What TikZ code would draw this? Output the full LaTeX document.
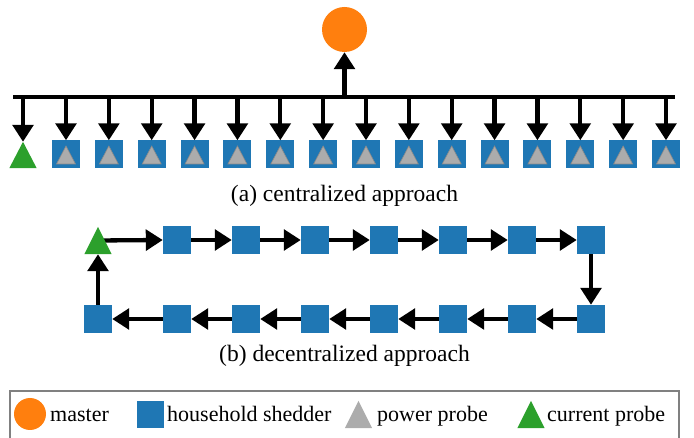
\documentclass[tikz,border=0pt]{standalone}
\usepackage{fontspec}
\setmainfont{Liberation Serif}
\usetikzlibrary{arrows.meta,calc}
\definecolor{torange}{HTML}{FF7F0E}
\definecolor{tblue}{HTML}{1F77B4}
\definecolor{tgreen}{HTML}{2CA02C}
\definecolor{tgray}{RGB}{172,172,172}
\definecolor{boxgray}{RGB}{128,128,128}
\begin{document}
\begin{tikzpicture}[x=1pt,y=-1pt,
  shedder/.style={rectangle,fill=tblue,minimum size=28pt,inner sep=0pt},
  lshedder/.style={rectangle,fill=tblue,minimum size=27pt,inner sep=0pt},
  triholder/.style={rectangle,minimum width=27pt,minimum height=26pt,inner sep=0pt},
  masternode/.style={circle,fill=torange,minimum size=45pt,inner sep=0pt},
  conn/.style={line width=4.3pt,-{Triangle[length=17pt,width=20.5pt]}},
  bus/.style={line width=4.5pt},
  legtext/.style={anchor=base west,inner sep=0pt,font=\fontsize{22}{26}\selectfont},
  captext/.style={anchor=base,inner sep=0pt,font=\fontsize{23.5}{28}\selectfont},
]
\useasboundingbox (0,0) rectangle (694,438);

% ---------- (a) centralized ----------
\node[masternode] (master) at (344.5,29.5) {};
\coordinate (busL) at (13,97);
\coordinate (busR) at (675,97);
\draw[bus] (busL) -- (busR);
\draw[conn] (master.south |- busL) -- (master.south);

\node[triholder] (a0) at (23,155) {};
\foreach \k in {1,...,15}{
  \pgfmathsetmacro{\xx}{66+42.857*(\k-1)}
  \node[shedder] (a\k) at (\xx,154.5) {};
  \fill[tgray,draw=tgray!80!black,line width=0.6pt]
    ($(a\k.center)+(-9.5,9.5)$) -- ($(a\k.center)+(9.5,9.5)$) -- ($(a\k.center)+(0,-8.5)$) -- cycle;
}
\foreach \k in {0,...,15}{
  \draw[conn] (a\k.north |- busL) -- (a\k.north);
}
\fill[tgreen] (a0.south west) -- (a0.south east) -- (a0.north) -- cycle;

\node[captext] (capa) at (344.5,201.5) {(a) centralized approach};

% ---------- (b) decentralized ----------
\node[triholder,minimum height=27pt] (tb) at (98,240.5) {};
\foreach \k in {1,...,7}{
  \pgfmathsetmacro{\xx}{177+69*(\k-1)}
  \node[shedder] (t\k) at (\xx,240) {};
}
\node[shedder] (b0) at (98,319) {};
\foreach \k in {1,...,7}{
  \pgfmathsetmacro{\xx}{177+69*(\k-1)}
  \node[shedder] (b\k) at (\xx,319) {};
}
\draw[conn] (tb.center) -- (t1.west);
\foreach \i/\j in {1/2,2/3,3/4,4/5,5/6,6/7}{
  \draw[conn] (t\i.east) -- (t\j.west);
}
\draw[conn] (t7.south) -- (b7.north);
\foreach \i/\j in {7/6,6/5,5/4,4/3,3/2,2/1,1/0}{
  \draw[conn] (b\i.west) -- (b\j.east);
}
\draw[conn] (b0.north) -- (tb.south);
\fill[tgreen] (tb.south west) -- (tb.south east) -- (tb.north) -- cycle;

\node[captext] (capb) at (344.5,362) {(b) decentralized approach};

% ---------- legend ----------
\draw[boxgray,line width=1.2pt] (10,445) -- (10,391) -- (679,391) -- (679,445);
\node[circle,fill=torange,minimum size=32pt,inner sep=0pt] (lm) at (30,414) {};
\node[legtext] (lmt) at (50,422) {master};
\node[lshedder] (ls) at (150.5,414.5) {};
\node[legtext] (lst) at (167,422) {household shedder};
\node[triholder,minimum height=27pt] (lp) at (358.5,414.5) {};
\fill[tgray] (lp.south west) -- (lp.south east) -- (lp.north) -- cycle;
\node[legtext] (lpt) at (377,422) {power probe};
\node[triholder,minimum height=27pt] (lc) at (531,414.5) {};
\fill[tgreen] (lc.south west) -- (lc.south east) -- (lc.north) -- cycle;
\node[legtext] (lct) at (547,422) {current probe};
\end{tikzpicture}
\end{document}
